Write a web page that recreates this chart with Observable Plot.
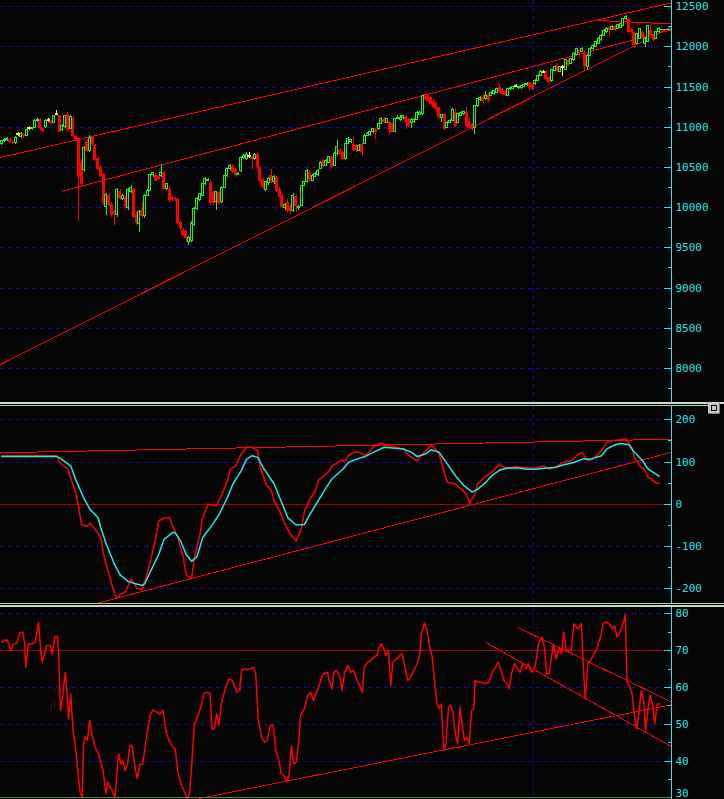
<!DOCTYPE html>
<html><head><meta charset="utf-8">
<script src="https://cdn.jsdelivr.net/npm/d3@7"></script>
<script src="https://cdn.jsdelivr.net/npm/@observablehq/plot@0.6"></script>
<style>
html,body{margin:0;padding:0;background:#050505;}
#wrap{position:relative;width:724px;height:799px;overflow:hidden;background:#050505;}
#wrap svg{position:absolute;left:0;}
.sep{position:absolute;left:0;width:708px;}
</style></head>
<body><div id="wrap"></div>
<script>
// ---------- price bars (daily OHLC) ----------
const open = [
10790,10830,10840,10850,10810,10800,10910,10880,10910,10890,
10985,10975,10990,11075,11100,10990,11000,11085,11070,11050,
11170,11140,10960,11000,11160,10980,11110,10880,10860,10560,
10470,10820,10700,10880,10770,10610,10500,10410,10010,10150,
10040,9950,9910,10200,10110,10130,10000,10200,10220,9920,
9800,9960,9890,10150,10210,10400,10395,10390,10395,10435,
10230,10230,10125,10110,10105,9810,9720,9700,9575,9580,
9780,9985,10090,10150,10290,10330,10310,10190,10065,10190,
10065,10250,10390,10475,10515,10475,10410,10455,10620,10600,
10640,10620,10600,10660,10500,10350,10220,10300,10400,10320,
10375,10230,10150,9990,10060,10010,9960,10140,9990,10020,
10270,10315,10440,10335,10380,10400,10480,10580,10520,10560,
10625,10520,10665,10710,10685,10600,10790,10815,10790,10770,
10710,10790,10790,10895,10900,10935,10975,10975,11040,11100,
11050,11060,11040,10940,11100,11090,11115,11135,11095,11050,
11060,11095,11150,11160,11410,11390,11370,11325,11300,11240,
11120,11160,10990,11050,11080,11180,11050,11140,11160,11180,
11070,11030,10990,11260,11335,11365,11345,11410,11390,11410,
11430,11490,11470,11450,11390,11470,11480,11510,11485,11490,
11500,11520,11550,11530,11540,11580,11640,11685,11690,11620,
11570,11700,11770,11690,11750,11710,11830,11790,11830,11895,
11955,11935,11935,11750,11890,11975,12000,12040,12080,12140,
12180,12240,12210,12250,12220,12240,12260,12340,12345,12220,
12180,12040,12100,12180,12040,12060,12200,12140,12100,12180];
const high = [
10840,10860,10870,10860,10830,10880,10930,10930,10920,10970,
11010,11000,11090,11110,11110,11000,11090,11110,11080,11150,
11210,11150,11030,11150,11180,11140,11130,10900,10870,10600,
10760,10850,10900,10890,10790,10640,10520,10430,10180,10170,
10060,9970,10240,10230,10160,10150,10240,10270,10240,9940,
9960,10060,10160,10220,10410,10440,10420,10400,10540,10450,
10300,10260,10140,10130,10110,9830,9740,9710,9640,9830,
10000,10120,10180,10300,10370,10360,10330,10200,10200,10200,
10260,10400,10490,10530,10530,10490,10440,10630,10660,10680,
10680,10640,10670,10680,10510,10360,10330,10380,10470,10400,
10390,10250,10170,10050,10100,10030,10170,10160,10030,10280,
10330,10470,10460,10410,10440,10470,10570,10600,10600,10640,
10640,10680,10830,10730,10700,10800,10870,10850,10890,10790,
10790,10800,10910,10930,10950,10990,10990,11050,11120,11120,
11110,11070,11050,11110,11140,11140,11150,11150,11110,11110,
11110,11190,11200,11400,11420,11400,11380,11340,11310,11250,
11160,11170,11070,11090,11230,11230,11170,11190,11200,11240,
11120,11040,11270,11360,11380,11410,11440,11420,11440,11460,
11480,11530,11480,11460,11480,11500,11510,11530,11510,11520,
11540,11560,11560,11540,11590,11650,11700,11700,11700,11630,
11720,11760,11790,11760,11770,11840,11840,11860,11925,11985,
11960,11990,11960,11900,11990,12030,12070,12110,12150,12210,
12240,12250,12260,12260,12280,12290,12350,12390,12360,12230,
12190,12170,12230,12190,12110,12270,12260,12150,12190,12240];
const low = [
10770,10810,10820,10800,10780,10790,10880,10860,10860,10880,
10960,10960,10980,11060,10960,10930,10990,11060,11030,11040,
11140,10930,10950,10990,10950,10970,10870,10820,9830,10250,
10440,10690,10680,10760,10570,10460,10370,10030,9900,10000,
9880,9780,9880,10090,10090,9980,9960,10180,9860,9780,
9690,9880,9870,10140,10200,10380,10320,10340,10380,10220,
10210,10060,10070,10080,9790,9720,9640,9560,9530,9560,
9760,9970,10080,10140,10280,10320,10030,10020,9965,10030,
10050,10240,10380,10460,10420,10380,10395,10440,10600,10590,
10610,10475,10590,10490,10310,10230,10200,10280,10300,10290,
10190,10120,9990,9970,9930,9920,9940,9940,9970,10010,
10260,10300,10330,10320,10370,10390,10470,10500,10510,10550,
10490,10510,10650,10650,10590,10590,10780,10800,10700,10690,
10700,10630,10780,10880,10890,10920,10850,10960,11030,11050,
11040,10895,10930,10930,11090,11070,11100,10970,11000,10990,
11040,11080,11140,11150,11330,11310,11270,11230,11200,11100,
11055,10960,10980,11040,11070,11000,11040,11130,11150,11000,
10990,10950,10910,11250,11320,11290,11330,11310,11380,11400,
11420,11420,11400,11380,11380,11460,11470,11500,11470,11470,
11490,11510,11450,11460,11520,11570,11630,11670,11570,11530,
11560,11690,11680,11680,11630,11700,11760,11780,11820,11890,
11850,11930,11710,11700,11880,11960,11990,12030,12070,12130,
12170,12120,12200,12190,12210,12230,12250,12330,12170,12170,
11975,12030,12090,12090,11995,12050,12130,12070,12090,12170];
const close = [
10830,10840,10850,10810,10800,10870,10910,10920,10880,10960,
10985,10990,11080,11085,10990,10950,11080,11085,11040,11140,
11170,10940,11020,11140,10960,11130,10880,10830,10390,10290,
10740,10700,10870,10780,10590,10480,10390,10050,10160,10020,
9900,9910,10220,10110,10140,10000,10220,10250,9880,9800,
9940,9890,10150,10210,10400,10425,10330,10350,10435,10230,
10290,10085,10090,10095,9800,9740,9655,9610,9625,9800,
9985,10105,10170,10290,10350,10345,10045,10050,10190,10045,
10250,10390,10475,10515,10435,10395,10420,10620,10640,10660,
10640,10600,10660,10500,10330,10250,10320,10355,10320,10380,
10200,10130,10000,10030,9950,9950,10150,10010,10010,10270,
10315,10460,10340,10395,10420,10460,10560,10510,10580,10625,
10500,10665,10750,10665,10600,10790,10850,10835,10710,10710,
10770,10690,10895,10915,10935,10975,10935,11040,11100,11060,
11100,10955,10940,11100,11120,11120,11135,11055,11010,11095,
11095,11180,11180,11385,11345,11325,11285,11240,11220,11115,
11150,10970,11055,11075,11220,11010,11160,11180,11185,11010,
11000,10975,11260,11345,11365,11325,11385,11325,11430,11450,
11470,11430,11410,11390,11470,11490,11500,11510,11500,11510,
11530,11540,11490,11470,11580,11640,11690,11685,11590,11550,
11710,11750,11690,11750,11750,11830,11770,11850,11915,11975,
11915,11975,11750,11890,11975,12015,12060,12100,12140,12200,
12220,12200,12250,12200,12270,12280,12340,12375,12180,12180,
12015,12160,12220,12100,12100,12260,12140,12080,12180,12220];

// bar where the new year starts (vertical grid line)
const yearStartBar = 193.3;

// ---------- price axis ----------
const priceTicks = [12500,12000,11500,11000,10500,10000,9500,9000,8500,8000];
const priceMinor = [12250,11750,11250,10750,10250,9750,9250,8750,8250,7750];

// ---------- price trend lines: [bar, value] ----------
const priceUpperLine  = [[-0.5,10623],[243.5,12547]];
const priceMiddleLine = [[22,10204],[243.5,12211]];
const priceLowerLine  = [[-0.5,8049],[243.5,12246]];
const priceTopLine    = [[217,12327],[243.5,12285]];

// ---------- oscillator (middle panel) ----------
const cciBar = [0,20,21,24,25,27,29,31,32,34,36,37,39,41,42,43,45,47,49,51,52,54,56,57,59,61,62,64,66,67,69,70,72,73,75,77,78,80,82,83,85,87,89,91,93,94,96,98,99,101,103,105,107,109,110,112,114,115,117,119,120,123,125,126,128,130,132,134,135,138,140,143,146,148,151,153,156,157,159,161,162,165,167,169,170,172,173,176,178,181,182,184,187,189,192,194,197,199,202,204,207,209,211,213,215,218,220,222,224,227,229,230,232,234,235,236,238,239];
const cciVal = [115,115,99,83,63,24,-48,-52,-44,-60,-79,-119,-167,-214,-222,-214,-206,-177,-198,-202,-183,-135,-79,-40,-32,-32,-52,-79,-127,-167,-175,-127,-71,-32,0,-2,-4,24,56,83,91,119,135,135,127,87,48,32,8,-16,-48,-71,-87,-56,-16,12,32,56,67,79,91,103,103,115,123,123,115,127,135,145,139,135,131,115,103,119,139,135,119,71,52,48,36,24,2,24,48,67,75,95,89,86,89,87,86,86,91,83,91,99,103,115,123,103,107,127,147,151,152,155,135,111,91,79,63,60,50,50];
const avgBar = [0,20,21,25,27,30,32,35,36,38,41,43,46,48,51,52,54,57,59,62,63,65,67,69,71,73,77,79,82,84,87,89,91,93,95,99,102,104,107,110,112,115,118,120,124,126,129,132,135,139,142,146,149,151,154,156,159,162,165,168,171,173,176,178,181,184,188,191,194,198,201,204,208,211,214,218,220,223,225,228,230,233,235,238,239];
const avgVal = [113,113,110,91,56,12,-12,-32,-56,-95,-143,-167,-183,-187,-192,-187,-159,-119,-83,-67,-67,-87,-119,-135,-123,-79,-44,-24,16,48,79,107,115,111,87,48,0,-32,-49,-48,-24,8,40,60,83,99,107,113,123,135,133,131,123,113,119,129,123,95,67,44,29,36,52,67,81,86,86,83,83,86,87,93,99,107,107,115,131,141,144,141,123,103,83,71,66];
const cciTicks = [200,100,0,-100,-200];
const cciGrid = [200,100,-100,-200];
const cciMinor = [150,50,-50,-150];
const cciZero = [0];
const cciUpperLine = [[-0.5,122],[243.5,154]];
const cciLowerLine = [[34.8,-234],[243.5,123]];

// ---------- strength index (bottom panel) ----------
const rsiBar = [0,0.8,2.0,3.2,4.2,5.4,6.6,7.6,8.2,8.7,9.6,10.9,12.1,13.3,13.9,14.6,15.5,16.3,17.6,18.3,19.3,20.2,20.8,21.3,22.2,23.0,23.5,24.2,25.0,25.9,26.9,27.7,28.5,29.2,29.7,30.2,31.1,31.9,32.7,33.9,35.1,36.1,36.8,37.8,38.5,39.3,40.1,41.1,41.8,42.5,43.2,44.0,44.8,45.7,46.5,47.4,48.2,49.2,50.2,51.2,52.1,53.2,54.1,54.9,56.3,57.4,58.6,59.6,60.8,62.0,63.0,64.1,65.3,66.7,67.5,68.3,69.2,70.0,71.4,72.5,73.4,74.5,75.7,76.4,77.2,78.1,78.9,79.8,80.9,81.8,82.6,83.8,84.8,85.5,86.5,87.1,88.2,89.3,90.5,91.5,92.3,93.2,94.4,95.5,96.5,97.6,98.6,99.6,100.6,101.6,102.6,103.6,104.4,105.3,106.1,107.0,107.8,108.6,110.0,111.2,112.3,113.3,114.5,115.4,116.2,117.0,118.4,119.0,120.1,120.7,121.7,122.9,123.7,124.6,125.8,126.8,127.9,129.1,130.1,131.0,131.8,133.0,134.2,135.2,136.3,137.2,138.0,138.9,139.7,140.5,141.4,142.2,143.6,144.7,145.6,146.6,147.6,148.6,149.8,151.0,152.0,152.6,153.6,154.6,155.6,156.5,157.3,158.2,159.0,159.8,160.7,161.5,162.4,163.2,164.0,164.9,165.7,166.6,167.4,168.2,169.1,169.9,170.8,171.6,172.1,173.3,174.5,175.8,177.1,178.3,179.5,180.5,181.7,182.5,183.7,184.5,185.4,186.4,187.2,188.4,189.2,190.6,191.4,192.6,193.9,195.1,196.3,197.3,198.1,199.0,199.8,200.6,201.5,202.7,203.5,204.3,205.2,206.0,207.0,208.0,209.4,210.7,211.4,212.1,213.1,214.1,215.3,216.4,217.8,218.6,219.4,220.8,222.0,222.8,223.6,224.5,225.7,226.7,227.3,228.2,229.2,229.9,230.9,231.7,232.5,233.4,234.1,234.9,235.7,236.6,237.4,238.3,239.3];
const rsiVal = [72.3,72.9,72.8,70,71.8,72,75,75,72.3,65.5,71.8,71.8,72.3,77.7,72.3,66.9,69.1,71.4,71.4,69.1,73.8,73.8,65.5,53.7,58.2,64.1,60.1,51.5,58.2,48.3,42.9,36.5,31.1,30.2,44.7,46.5,45.6,51,47.4,43.8,42,39.2,37.4,31.1,34.3,32.9,32,30,36.5,42,39.2,40.1,37.4,39.2,44.2,44.2,39.2,35.2,39.2,39.2,43.8,49.2,52.8,53.9,53.3,52.8,53.7,48.3,45.6,43.8,43.3,36.5,33.4,31.1,29.7,31.5,41,50.1,52.4,55.1,58.3,58.7,58.3,48.7,48.7,52.8,49.7,55.5,58.7,61,62.3,61.9,60.1,58.7,59.2,64.6,65.1,64.8,65.1,65.5,63.7,51.5,46.5,45.1,45.6,49.7,49.7,42.9,40.6,36.5,36.1,34.3,36.1,44.2,39.2,39.7,44.2,52.4,54.2,57.8,58.7,56.4,59.2,60.5,62.8,63.7,64.1,62,59.6,64.1,64.6,62.8,59.2,64.1,66,64.1,64.6,62,60.5,58.7,65.5,66.9,67.3,68.2,68.7,70.9,71.8,70.5,68.7,70,60.5,66.9,67.8,68.7,69.1,65.5,61.9,62.8,64.6,66.4,69.1,74.6,77.5,75.5,70.9,68.2,61.9,55.5,54.2,55.5,42.9,44.7,54.6,55.1,53.3,47.4,44.7,54.6,49.7,45.6,46.5,44.7,53.7,54.2,61.9,61.4,61.4,61,61.4,64.1,65.5,66.9,64.1,61.9,61,59.6,64.1,66.4,65.5,64.1,66.4,65.1,66.4,64.1,65.5,71.8,73.7,70.9,63.7,63.7,67.8,71.8,67.8,70.9,69.1,75,70,70.2,70,77.3,75.9,77.3,66.4,56.9,66.4,67.3,69.1,70.5,74.1,77.3,77.7,77.3,75.9,76.8,73.7,74.6,76.8,79.8,61.4,60.5,58.3,52.8,48.7,53.7,59.2,56,48.3,53.7,57.8,55.5,50.1,55.5,55.5];
const rsiTicks = [80,70,60,50,40];
const rsiBottomTick = [30];
const rsiGrid = [80,60,50,40];
const rsiMinor = [75,65,55,45,35];
const rsiLevel = [70];
const rsiSupportLine = [[71.7,29.8],[243.5,55.3]];
const rsiChanUpper = [[187.9,76.2],[243.5,56.0]];
const rsiChanLower = [[176.2,72.1],[243.5,43.9]];

// ---------- styling ----------
const BG = "#050505", RED = "#ff0000", GREEN = "#22f022", YELLOW = "#ffff00";
const CYAN = "#2fe2e2", BLUE = "#0c0cae", DARKRED = "#a80000", CTEXT = "#36e3e3";
const X_DOMAIN = [-0.51, 243.49];
const X_MAX = X_DOMAIN[1];
const FONT = "DejaVu Sans Mono";

const bars = close.map((c, i) => ({i, o: open[i], h: high[i], l: low[i], c}));
const up = bars.filter(d => d.c > d.o), down = bars.filter(d => d.c < d.o), doji = bars.filter(d => d.c === d.o);
const toPts = (arr, id) => arr.map(([b, v]) => ({b, v, id}));
const crisp = {shapeRendering: "crispEdges"};

function axisMarks(major, minor) {
  return [
    Plot.ruleX([X_MAX], {stroke: CYAN, ...crisp}),
    Plot.axisY(major, {anchor: "right", tickSize: 8, dx: -8, tickPadding: 4, tickFormat: d => String(d),
      fontSize: 11, fontFamily: FONT, color: CYAN, label: null, ...crisp}),
    Plot.axisY(minor, {anchor: "right", tickSize: 4, dx: -4, tickFormat: () => "", color: CYAN, label: null, ...crisp})
  ];
}
function panel(top, height, yDomain, yRange, marks) {
  const svg = Plot.plot({
    width: 724, height, marginLeft: 0, marginRight: 53, marginTop: 0, marginBottom: 0,
    style: {background: "transparent", color: CTEXT},
    x: {domain: X_DOMAIN, range: [0, 671], axis: null},
    y: {domain: yDomain, range: yRange, axis: null},
    marks
  });
  svg.style.top = top + "px";
  document.getElementById("wrap").appendChild(svg);
}
const grid = vals => Plot.ruleY(vals, {stroke: BLUE, strokeDasharray: "4,4", ...crisp});
const vgrid = Plot.ruleX([yearStartBar], {stroke: BLUE, strokeDasharray: "4,4", ...crisp});
const trend = (pts) => Plot.line(pts, {x: "b", y: "v", z: "id", stroke: RED, strokeWidth: 1, clip: true, ...crisp});

// ---------- panel 1: price ----------
panel(0, 402, [12500, 8000], [6.1, 367.9], [
  grid(priceTicks), vgrid,
  trend([...toPts(priceUpperLine, "u"), ...toPts(priceMiddleLine, "m"), ...toPts(priceLowerLine, "l"), ...toPts(priceTopLine, "t")]),
  Plot.ruleX(down, {x: "i", y1: "l", y2: "h", stroke: RED, ...crisp}),
  Plot.ruleX(up, {x: "i", y1: "l", y2: "h", stroke: GREEN, ...crisp}),
  Plot.ruleX(doji, {x: "i", y1: "l", y2: "h", stroke: YELLOW, ...crisp}),
  Plot.rect(down, {x1: d => d.i - 0.55, x2: d => d.i + 0.55, y1: "o", y2: "c", fill: RED, ...crisp}),
  Plot.rect(up, {x1: d => d.i - 0.36, x2: d => d.i + 0.36, y1: "o", y2: "c", fill: BG, stroke: GREEN, ...crisp}),
  Plot.ruleY(doji, {y: "c", x1: d => d.i - 0.6, x2: d => d.i + 0.6, stroke: YELLOW, strokeWidth: 2, ...crisp}),
  Plot.ruleY([bars[bars.length - 1]], {y: "c", x1: "i", x2: () => X_MAX, stroke: GREEN, ...crisp}),
  ...axisMarks(priceTicks, priceMinor)
]);

// ---------- panel 2: oscillator ----------
panel(406, 197, [200, -200], [13.3, 182.3], [
  grid(cciGrid), vgrid,
  Plot.ruleY(cciZero, {stroke: DARKRED, ...crisp}),
  trend([...toPts(cciUpperLine, "u"), ...toPts(cciLowerLine, "l")]),
  Plot.line(cciBar.map((b, k) => ({b, v: cciVal[k]})), {x: "b", y: "v", stroke: RED, clip: true}),
  Plot.line(avgBar.map((b, k) => ({b, v: avgVal[k]})), {x: "b", y: "v", stroke: "#22e8e8", clip: true}),
  ...axisMarks(cciTicks, cciMinor)
]);

// ---------- panel 3: strength index ----------
panel(607, 192, [80, 30], [6.3, 190.3], [
  grid(rsiGrid), vgrid,
  Plot.ruleY(rsiLevel, {stroke: DARKRED, ...crisp}),
  trend([...toPts(rsiSupportLine, "s"), ...toPts(rsiChanUpper, "a"), ...toPts(rsiChanLower, "b")]),
  Plot.line(rsiBar.map((b, k) => ({b, v: rsiVal[k]})), {x: "b", y: "v", stroke: RED, clip: true}),
  ...axisMarks(rsiTicks, rsiMinor),
  Plot.axisY(rsiBottomTick, {anchor: "right", tickSize: 8, dx: -8, tickPadding: 4, tickFormat: () => "", color: CYAN, label: null, ...crisp}),
  Plot.text(rsiBottomTick, {y: d => d, frameAnchor: "right", dx: 4, dy: -4, textAnchor: "start", text: d => String(d),
    fontSize: 11, fontFamily: FONT, fill: CYAN})
]);

// ---------- panel separators & window button ----------
const wrap = document.getElementById("wrap");
function bar(top, h, color, w) {
  const d = document.createElement("div");
  d.className = "sep";
  d.style.top = top + "px"; d.style.height = h + "px"; d.style.background = color;
  if (w) d.style.width = w + "px";
  wrap.appendChild(d);
}
bar(402, 2, "#d4d4d4", 724);
bar(405, 1, "#8fe08f", 708);
bar(603, 1, "#8fe08f", 724);
bar(605, 2, "#c8d8c8", 724);
bar(797, 1, "#3a9a3a", 671);
const btn = document.createElement("div");
btn.style.cssText = "position:absolute;left:708px;top:403px;width:12px;height:11px;background:#c6c6c6;border-right:1px solid #7a7a7a;border-bottom:1px solid #7a7a7a;box-sizing:border-box;";
const ico = document.createElement("div");
ico.style.cssText = "position:absolute;left:3px;top:2px;width:6px;height:6px;border:1px solid #101010;box-sizing:border-box;";
btn.appendChild(ico);
wrap.appendChild(btn);
</script>
</body></html>
